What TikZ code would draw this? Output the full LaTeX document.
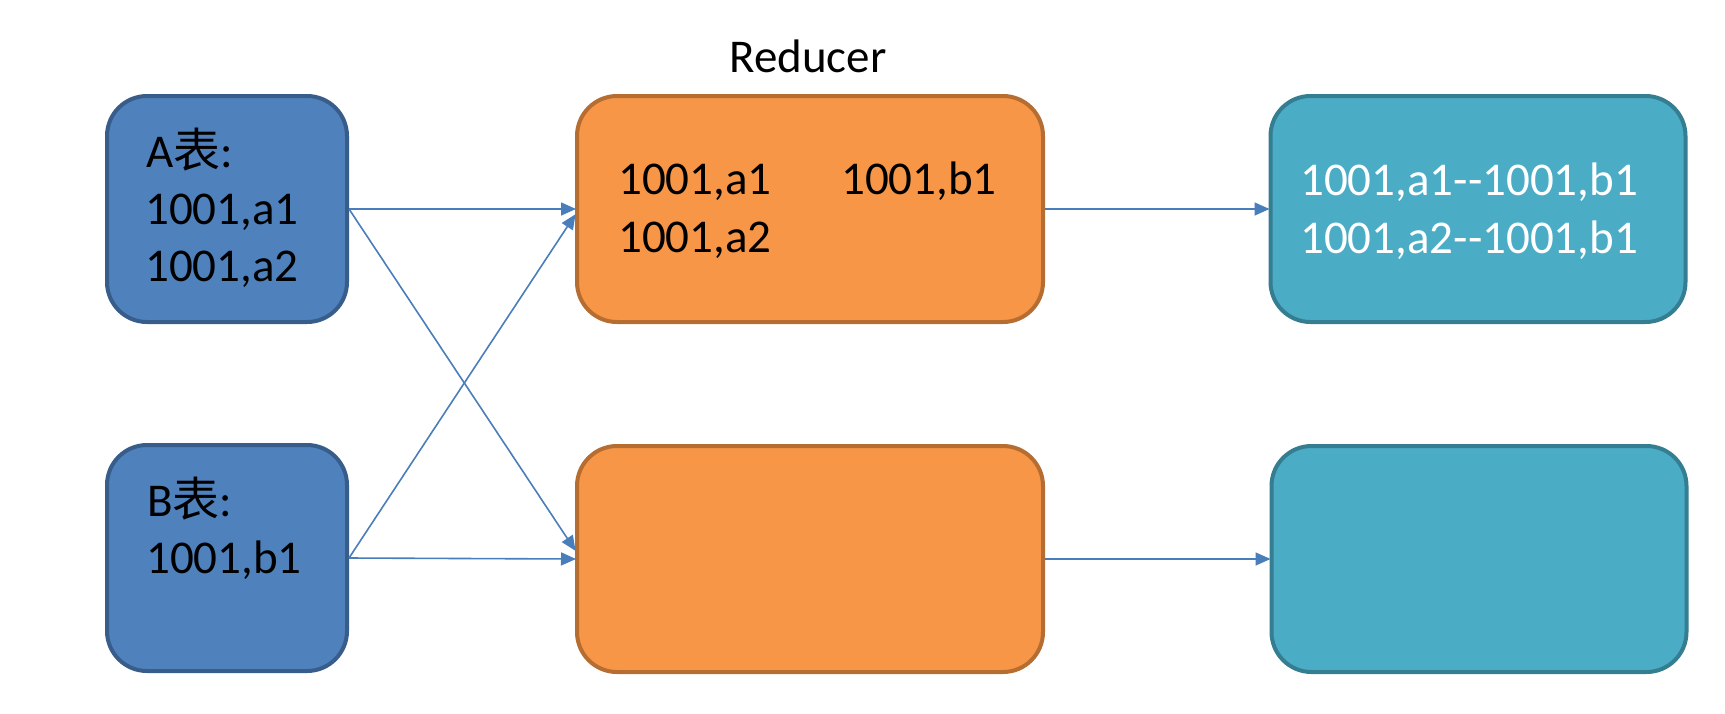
\documentclass[tikz,border=0pt]{standalone}
\usepackage{fontspec}
\setmainfont{Carlito}
\newfontfamily\cjk{Noto Sans CJK SC}
\usetikzlibrary{arrows.meta,calc}
\definecolor{bluefill}{HTML}{4F81BD}
\definecolor{blueline}{HTML}{385D8A}
\definecolor{orfill}{HTML}{F79646}
\definecolor{orline}{HTML}{B66D31}
\definecolor{tealfill}{HTML}{4BACC6}
\definecolor{tealline}{HTML}{357D91}
\definecolor{arrowcol}{HTML}{4A7EBB}
\tikzset{
  box/.style={draw, line width=4pt, rounded corners=40pt, inner sep=0pt},
  abox/.style={box, fill=bluefill, draw=blueline, minimum width=240pt, minimum height=226pt},
  obox/.style={box, fill=orfill, draw=orline, minimum width=466pt, minimum height=226pt},
  tbox/.style={box, fill=tealfill, draw=tealline, minimum width=415pt, minimum height=226pt},
  txt/.style={anchor=base west, inner sep=0pt, font=\fontsize{47}{57}\selectfont},
  arr/.style={draw=arrowcol, line width=1.6pt, -{Triangle[length=15pt,width=13pt]}, shorten >=-1pt}
}
\begin{document}
\begin{tikzpicture}[x=1pt,y=-1pt]
\useasboundingbox (0,0) rectangle (1725,713);
% boxes
\node[abox] (A) at (227,209) {};
\node[abox] (B) at (227,558) {};
\node[obox] (OT) at (810,209) {};
\node[obox] (OB) at (810,559) {};
\node[tbox] (TT) at (1478,209) {};
\node[tbox] (TB) at (1479,559) {};
% title
\node[txt, anchor=base] (red) at (808,72) {Reducer};
% texts
\node[txt] (a0) at (146,167) {A{\cjk 表}:};
\node[txt] (a1) at (145,224) {1001,a1};
\node[txt] (a2) at (145,281) {1001,a2};
\node[txt] (b0) at (147,516) {B{\cjk 表}:};
\node[txt] (b1) at (146,573) {1001,b1};
\node[txt] (o1) at (618,194) {1001,a1};
\node[txt] (o2) at (841,194) {1001,b1};
\node[txt] (o3) at (618,252) {1001,a2};
\node[txt, text=white] (t1) at (1300,195) {1001,a1-{}-1001,b1};
\node[txt, text=white] (t2) at (1300,253) {1001,a2-{}-1001,b1};
% connectors
\draw[arr] (A.east) -- (OT.west);
\draw[arr] (A.east) -- ([yshift=9pt]OB.west);
\draw[arr] (B.east) -- ([yshift=-6pt]OT.west);
\draw[arr] (B.east) -- (OB.west);
\draw[arr] (OT.east) -- (TT.west);
\draw[arr] (OB.east) -- (TB.west);
\end{tikzpicture}
\end{document}
